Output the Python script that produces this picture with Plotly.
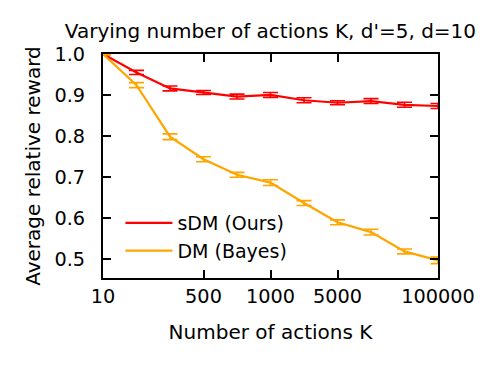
import plotly.graph_objects as go

# x positions are evenly spaced in the original figure, labelled at a few of them
x_idx = list(range(11))
tick_pos = [0, 3, 5, 7, 10]
tick_text = ["10", "500", "1000", "5000", "100000"]

sdm = [1.0, 0.955, 0.916, 0.906, 0.896, 0.900, 0.887, 0.881, 0.885, 0.876, 0.873]
sdm_err = [0.002, 0.005, 0.006, 0.005, 0.006, 0.006, 0.006, 0.005, 0.006, 0.006, 0.006]
dm = [1.0, 0.924, 0.798, 0.743, 0.705, 0.686, 0.636, 0.589, 0.565, 0.518, 0.496]
dm_err = [0.002, 0.006, 0.007, 0.006, 0.006, 0.007, 0.006, 0.006, 0.007, 0.006, 0.008]

FONT = "DejaVu Sans"

fig = go.Figure()
fig.add_trace(go.Scatter(x=x_idx, y=sdm, mode="lines", name="sDM (Ours)",
                         line=dict(color="#ff0000", width=2.2),
                         error_y=dict(type="data", array=sdm_err, color="#ff0000",
                                      thickness=1.6, width=7.5)))
fig.add_trace(go.Scatter(x=x_idx, y=dm, mode="lines", name="DM (Bayes)",
                         line=dict(color="#ffa500", width=2.2),
                         error_y=dict(type="data", array=dm_err, color="#ffa500",
                                      thickness=1.6, width=7.5)))

axis_style = dict(showline=True, linecolor="black", linewidth=2, mirror="allticks",
                  ticks="inside", ticklen=8, tickwidth=1.5, tickcolor="black",
                  showgrid=False, zeroline=False)

# the page body adds an 8px offset, so margins are trimmed to compensate
fig.update_layout(
    width=498, height=373,
    margin=dict(l=95, r=68, t=46, b=103),
    paper_bgcolor="white", plot_bgcolor="white",
    font=dict(family=FONT, size=20, color="black"),
    title=dict(text="Varying number of actions K, d'=5, d=10", x=0.527, xanchor="center",
               y=1 - 23 / 373, yanchor="middle", yref="container",
               font=dict(size=20)),
    xaxis=dict(range=[0, 10], tickvals=tick_pos, ticktext=tick_text,
               tickfont=dict(size=19.3),
               title=dict(text="Number of actions K", standoff=18, font=dict(size=20)),
               **axis_style),
    yaxis=dict(range=[0.453, 1.0], tickvals=[0.5, 0.6, 0.7, 0.8, 0.9, 1.0],
               tickformat=".1f", tickfont=dict(size=19.3), ticklabelstandoff=12,
               title=dict(text="Average relative reward", standoff=8, font=dict(size=20)),
               **axis_style),
    legend=dict(x=0.052, y=0.33, xanchor="left", yanchor="top", itemwidth=47,
                bgcolor="rgba(0,0,0,0)", borderwidth=0, font=dict(size=19),
                tracegroupgap=0),
    showlegend=True,
)

fig.write_html("out.html")
